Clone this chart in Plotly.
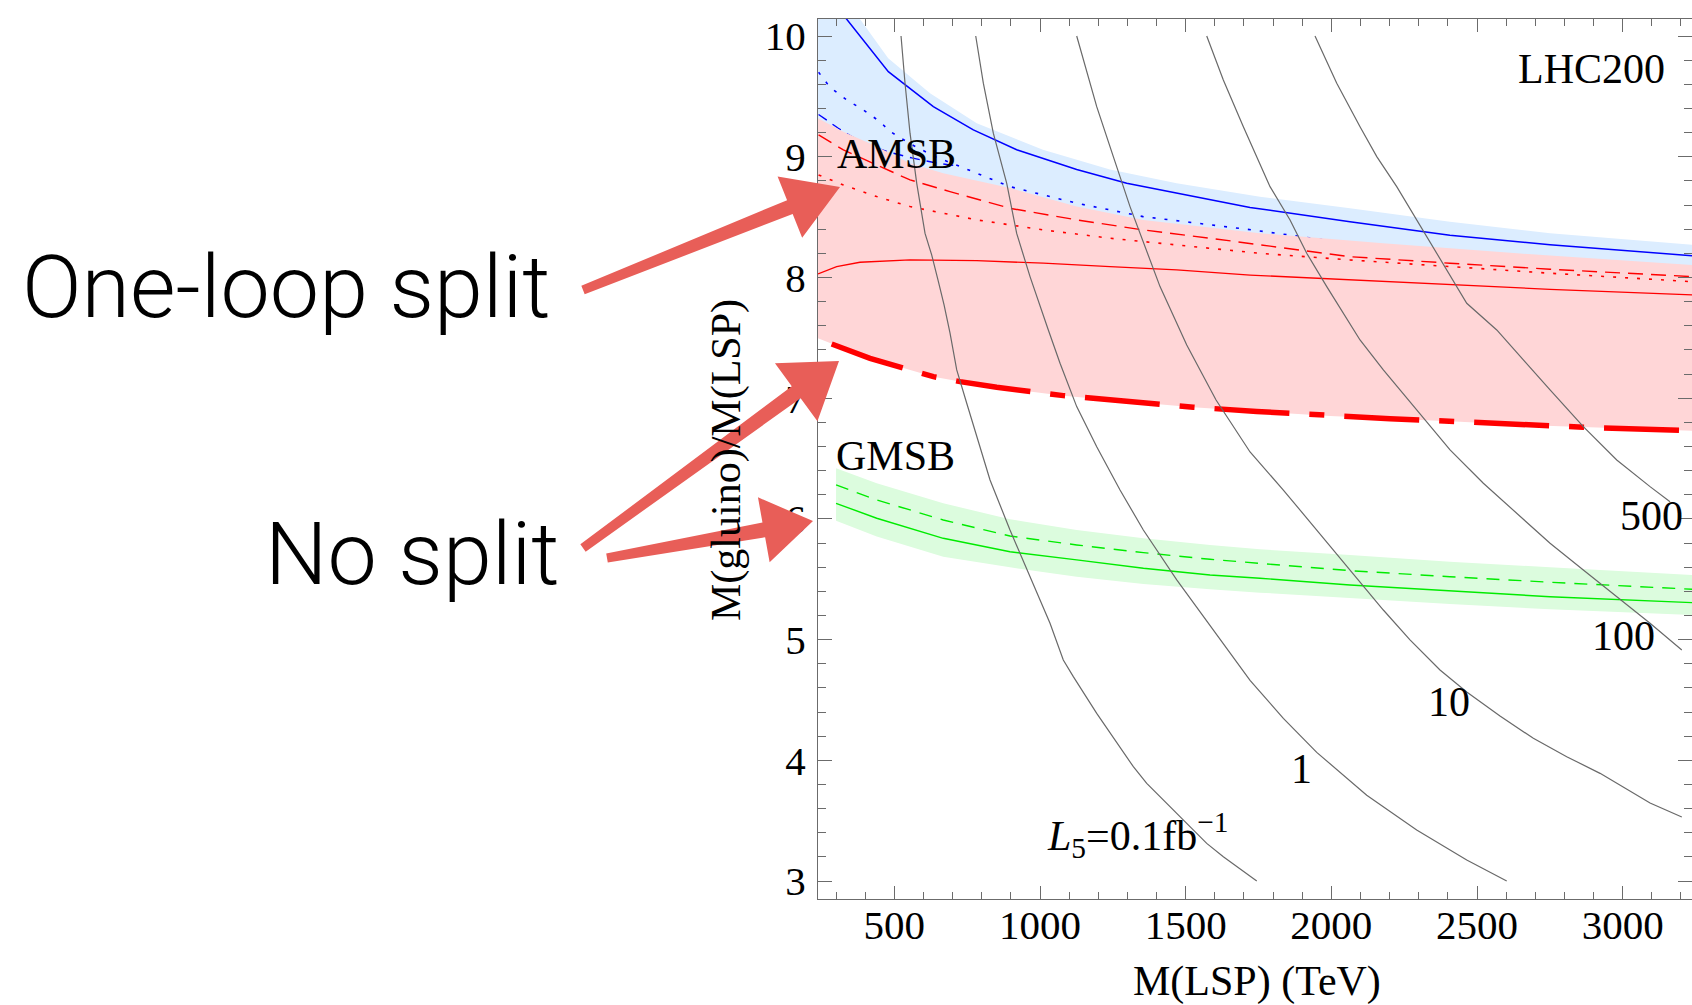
import math
import plotly.graph_objects as go

# ---------------- data ----------------
# AMSB (blue) band and lines
blue_band_x = [238, 300, 382, 479, 622.5, 782.8, 1010, 1240, 1469, 1755, 2064, 2407, 2751, 3238]
blue_band_upper = [10.9, 10.5, 10.14, 9.816, 9.526, 9.278, 9.058, 8.895, 8.78, 8.669, 8.573, 8.462, 8.366, 8.27]
blue_band_lower = [9.0, 8.95, 8.85, 8.75, 8.65, 8.5, 8.4, 8.3, 8.25, 8.15, 8.05, 7.98, 7.92, 7.85]

blue_solid_x = [300, 479.4, 633.9, 771.2, 920, 1126, 1297.7, 1469.4, 1721, 2064, 2407, 2750.6, 3238]
blue_solid_y = [10.25, 9.705, 9.415, 9.222, 9.058, 8.895, 8.78, 8.698, 8.58, 8.462, 8.35, 8.27, 8.18]

blue_dotted_x = [240, 279, 336.6, 393.6, 451, 485, 560, 640, 725, 897, 1126, 1354, 1731, 2100, 2600, 3238]
blue_dotted_y = [9.7, 9.576, 9.47, 9.388, 9.29, 9.21, 9.10, 9.0, 8.92, 8.752, 8.615, 8.504, 8.393, 8.27, 8.15, 8.0]

blue_dashed_x = [240, 307.8, 354, 393.6, 480, 560, 640, 725]
blue_dashed_y = [9.35, 9.236, 9.166, 9.112, 9.04, 8.99, 8.95, 8.92]

# One-loop split (red) band and lines
pink_upper_x = [238, 325, 439.6, 553.9, 668, 897, 1126, 1355, 1755, 2177.5, 2637.5, 3238]
pink_upper_y = [9.319, 9.208, 9.084, 8.946, 8.863, 8.74, 8.587, 8.476, 8.366, 8.283, 8.2, 8.104]

dashdot_x = [285, 325, 416.6, 553.9, 634, 725.5, 851.5, 1080, 1309, 1526, 1744, 1995.6, 2201.5, 2442, 2659, 2865, 3238]
dashdot_y = [7.449, 7.413, 7.33, 7.234, 7.178, 7.137, 7.09, 7.021, 6.971, 6.925, 6.89, 6.853, 6.83, 6.805, 6.778, 6.759, 6.731]
pink_lower_x = [238] + dashdot_x
pink_lower_y = [7.496] + dashdot_y

red_solid_x = [238, 302, 382, 553.9, 782.8, 1011.5, 1240.4, 1469.4, 1721, 2064, 2407, 2750.6, 3238]
red_solid_y = [8.029, 8.09, 8.126, 8.145, 8.139, 8.118, 8.09, 8.062, 8.02, 7.979, 7.938, 7.902, 7.855]

red_dashed_x = [240, 325, 439.6, 553.9, 691, 897, 1126, 1353.7, 1583.6, 1755, 2064, 2407, 2750.6, 3238]
red_dashed_y = [9.181, 9.057, 8.932, 8.808, 8.711, 8.573, 8.477, 8.394, 8.325, 8.269, 8.172, 8.118, 8.068, 8.007]

red_dotted_x = [240, 325, 439.6, 553.9, 782.8, 1011.5, 1240.4, 1469.4, 1755, 2064, 2407, 2750.6, 3238]
red_dotted_y = [8.849, 8.766, 8.67, 8.587, 8.477, 8.394, 8.325, 8.269, 8.2, 8.145, 8.09, 8.035, 7.965]

# GMSB (green) band and lines
green_x = [300, 439.6, 668, 897, 1126, 1355, 1583.6, 1755, 2064, 2407, 2750.6, 3238]
green_upper = [6.419, 6.295, 6.129, 5.997, 5.908, 5.839, 5.784, 5.748, 5.701, 5.645, 5.599, 5.535]
green_lower = [5.985, 5.853, 5.687, 5.599, 5.521, 5.461, 5.417, 5.389, 5.342, 5.295, 5.251, 5.204]
green_dashed = [6.281, 6.157, 5.991, 5.858, 5.784, 5.72, 5.665, 5.632, 5.571, 5.521, 5.475, 5.417]
green_solid = [6.129, 6.005, 5.839, 5.728, 5.66, 5.591, 5.535, 5.508, 5.452, 5.405, 5.355, 5.306]

# luminosity contours L5 (fb^-1)
c01_x = [523, 536.7, 553.9, 576.9, 605.4, 628.4, 650, 670.7, 691.2, 714.2, 748.5, 782.8, 828.5, 897, 965.8,
         1034.4, 1080, 1114.4, 1194.7, 1320.4, 1366.4, 1480.7, 1572.3, 1629.3, 1744]
c01_y = [10.0, 9.609, 9.195, 8.78, 8.365, 8.185, 7.978, 7.772, 7.538, 7.234, 6.958, 6.681, 6.322, 5.908, 5.521,
         5.135, 4.831, 4.693, 4.389, 3.947, 3.809, 3.533, 3.312, 3.201, 3.0]
c1_x = [779.4, 805.5, 839.8, 885.8, 920, 965.8, 1028.6, 1068.8, 1126, 1194.7, 1274.7, 1354.7, 1469.4, 1583.6,
        1721, 1835.3, 1949.9, 2121.5, 2293, 2464.8, 2602]
c1_y = [10.0, 9.609, 9.195, 8.78, 8.365, 8.007, 7.565, 7.289, 6.93, 6.598, 6.239, 5.908, 5.494, 5.118,
        4.662, 4.347, 4.066, 3.71, 3.423, 3.174, 3.0]
c10_x = [1126, 1194.7, 1251.7, 1309, 1412, 1503.7, 1604.3, 1721, 1835.3, 1950, 2064.4, 2178.5, 2270, 2373,
         2464.8, 2579, 2693.4, 2808, 2922.4, 3094, 3203]
c10_y = [10.0, 9.415, 9.001, 8.587, 7.924, 7.441, 6.985, 6.554, 6.239, 5.908, 5.577, 5.245, 4.997, 4.748,
         4.566, 4.367, 4.182, 4.03, 3.892, 3.646, 3.53]
c100_x = [1572.3, 1629.3, 1698, 1789.6, 1858.3, 1915.6, 1984.3, 2098.5, 2178.5, 2293.2, 2407.5, 2521.8, 2636.4,
          2750.8, 2865, 2979.7, 3094, 3203]
c100_y = [10.0, 9.636, 9.249, 8.752, 8.476, 8.2, 7.924, 7.482, 7.234, 6.902, 6.571, 6.295, 6.046,
          5.798, 5.577, 5.355, 5.135, 4.914]
c500_x = [1944, 2018.6, 2098.5, 2156, 2224.5, 2293.2, 2373, 2464.8, 2567.8, 2659, 2750.8, 2865, 2979.7, 3094, 3162.6]
c500_y = [10.0, 9.609, 9.249, 9.001, 8.752, 8.476, 8.145, 7.786, 7.565, 7.316, 7.068, 6.764, 6.488, 6.267, 6.142]

contour_labels = ["1", "10", "100", "500"]
contour_label_x = [1899, 2404, 3002, 3098]
contour_label_y = [3.928, 4.483, 5.03, 6.024]

x_ticks = [500, 1000, 1500, 2000, 2500, 3000]
x_minor = [v for v in range(300, 3300, 100) if v % 500 != 0]
y_ticks = [3, 4, 5, 6, 7, 8, 9, 10]
y_minor = [round(3 + 0.2 * i, 1) for i in range(0, 36) if (i % 5) != 0]

# ---------------- styling ----------------
SERIF = "Liberation Serif"
AX = "#6b6b6b"
BLUE_FILL = "rgb(220,237,255)"
PINK_FILL = "rgb(255,214,215)"
GREEN_FILL = "rgb(220,252,222)"
GRAY = "rgb(105,105,105)"
ARROW = "rgb(232,94,88)"

W, H = 1692, 1005
L, R, T, B = 818, 1692, 19, 899


def paper(px, py):
    return (px - L) / (R - L), (B - py) / (B - T)


fig = go.Figure()


def band(xs_up, ys_up, xs_lo, ys_lo, color):
    fig.add_trace(go.Scatter(x=list(xs_up) + list(xs_lo)[::-1], y=list(ys_up) + list(ys_lo)[::-1],
                             fill="toself", fillcolor=color, line=dict(width=0), mode="lines",
                             hoverinfo="skip", showlegend=False))


def line(xs, ys, color, width=1.4, dash="solid"):
    fig.add_trace(go.Scatter(x=xs, y=ys, mode="lines", line=dict(color=color, width=width, dash=dash),
                             hoverinfo="skip", showlegend=False))


# blue
band(blue_band_x, blue_band_upper, blue_band_x, blue_band_lower, BLUE_FILL)
line(blue_solid_x, blue_solid_y, "blue", 1.5)
line(blue_dotted_x, blue_dotted_y, "blue", 1.6, "3px,9px")
line(blue_dashed_x, blue_dashed_y, "blue", 1.4, "10px,7px")
# red
band(pink_upper_x, pink_upper_y, pink_lower_x, pink_lower_y, PINK_FILL)
line(red_solid_x, red_solid_y, "red", 1.3)
line(red_dashed_x, red_dashed_y, "red", 1.4, "15px,8px")
line(red_dotted_x, red_dotted_y, "red", 1.6, "3px,9px")
line(dashdot_x, dashdot_y, "red", 5.5, "75px,20px,15px,20px")
# green
band(green_x, green_upper, green_x, green_lower, GREEN_FILL)
line(green_x, green_dashed, "rgb(0,235,0)", 1.4, "13px,9px")
line(green_x, green_solid, "rgb(0,235,0)", 1.4)
# contours
for cx, cy in [(c01_x, c01_y), (c1_x, c1_y), (c10_x, c10_y), (c100_x, c100_y), (c500_x, c500_y)]:
    line(cx, cy, GRAY, 1.2)

# invisible trace for the right-hand tick axis
fig.add_trace(go.Scatter(x=[], y=[], yaxis="y2", showlegend=False))

annotations = []
tfont = dict(family=SERIF, size=42, color="black")
annotations.append(dict(x=296, y=9.023, xref="x", yref="y", text="AMSB", showarrow=False,
                        xanchor="left", yanchor="middle", font=tfont))
annotations.append(dict(x=292.6, y=6.521, xref="x", yref="y", text="GMSB", showarrow=False,
                        xanchor="left", yanchor="middle", font=tfont))
annotations.append(dict(x=3152, y=9.727, xref="x", yref="y", text="LHC200", showarrow=False,
                        xanchor="right", yanchor="middle", font=tfont))
annotations.append(dict(x=1017, y=3.38, xref="x", yref="y",
                        text="<i>L</i><sub>5</sub>=0.1fb<sup>\u22121</sup>", showarrow=False,
                        xanchor="left", yanchor="middle", font=tfont))
for lab, lx, ly in zip(contour_labels, contour_label_x, contour_label_y):
    annotations.append(dict(x=lx, y=ly, xref="x", yref="y", text=lab, showarrow=False,
                            xanchor="center", yanchor="middle", font=tfont))

# axis titles
px_, py_ = paper(726, 460)
annotations.append(dict(x=px_, y=py_, xref="paper", yref="paper", text="M(gluino)/M(LSP)", textangle=-90,
                        showarrow=False, xanchor="center", yanchor="middle", font=tfont))
px_, py_ = paper(1257, 982)
annotations.append(dict(x=px_, y=py_, xref="paper", yref="paper", text="M(LSP) (TeV)",
                        showarrow=False, xanchor="center", yanchor="middle", font=tfont))

# hand-written labels
sfont = dict(family="Roboto", size=88, color="black", weight=300)
px_, py_ = paper(553, 286)
annotations.append(dict(x=px_, y=py_, xref="paper", yref="paper", text="One-loop split",
                        showarrow=False, xanchor="right", yanchor="middle", font=sfont))
px_, py_ = paper(562, 553)
annotations.append(dict(x=px_, y=py_, xref="paper", yref="paper", text="No split",
                        showarrow=False, xanchor="right", yanchor="middle", font=sfont))


def arrow_path(tail, tip, head_len, head_half, w0, w1):
    dx, dy = tip[0] - tail[0], tip[1] - tail[1]
    d = math.hypot(dx, dy)
    ux, uy = dx / d, dy / d
    nx, ny = -uy, ux
    bx, by = tip[0] - ux * head_len, tip[1] - uy * head_len
    pts = [(tail[0] + nx * w0, tail[1] + ny * w0), (bx + nx * w1, by + ny * w1),
           (bx + nx * head_half, by + ny * head_half), tip,
           (bx - nx * head_half, by - ny * head_half), (bx - nx * w1, by - ny * w1),
           (tail[0] - nx * w0, tail[1] - ny * w0)]
    return "M " + " L ".join("{:.5f},{:.5f}".format(*paper(*p)) for p in pts) + " Z"


shapes = []
for tail, tip, hl, hh in [((583, 290), (840, 187), 54, 33),
                          ((583, 548), (839, 361), 53, 36),
                          ((607, 558), (813, 521), 50, 33)]:
    shapes.append(dict(type="path", xref="paper", yref="paper", path=arrow_path(tail, tip, hl, hh, 4.5, 7.5),
                       fillcolor=ARROW, line=dict(width=0), layer="above"))

tickfont = dict(family=SERIF, size=41, color="black")
fig.update_layout(
    width=W, height=H, autosize=False,
    margin=dict(l=L, r=W - R, t=T, b=H - B, pad=0),
    paper_bgcolor="white", plot_bgcolor="white",
    showlegend=False,
    xaxis=dict(range=[238, 3238], showgrid=False, zeroline=False, showline=True, linecolor=AX, linewidth=1.3,
               mirror="ticks", ticks="inside", ticklen=13, tickwidth=1.2, tickcolor=AX,
               tickmode="array", tickvals=x_ticks, ticktext=[str(v) for v in x_ticks],
               minor=dict(tickmode="array", tickvals=x_minor, ticks="inside", ticklen=7, tickwidth=1.2,
                          tickcolor=AX),
               tickfont=tickfont, ticklabelstandoff=-10),
    yaxis=dict(range=[2.851, 10.141], showgrid=False, zeroline=False, showline=True, linecolor=AX,
               linewidth=1.3, ticks="inside", ticklen=14, tickwidth=1.2, tickcolor=AX,
               tickmode="array", tickvals=y_ticks, ticktext=[str(v) for v in y_ticks],
               minor=dict(tickmode="array", tickvals=y_minor, ticks="inside", ticklen=8, tickwidth=1.2,
                          tickcolor=AX),
               tickfont=tickfont, ticklabelstandoff=3),
    yaxis2=dict(range=[2.851, 10.141], overlaying="y", side="right", anchor="x", showgrid=False,
                zeroline=False, showline=False, ticks="inside", ticklen=14, tickwidth=1.2, tickcolor=AX,
                tickmode="array", tickvals=y_ticks, showticklabels=False,
                minor=dict(tickmode="array", tickvals=y_minor, ticks="inside", ticklen=8, tickwidth=1.2,
                           tickcolor=AX)),
    annotations=annotations,
    shapes=shapes,
)

fig.write_html("out.html")
